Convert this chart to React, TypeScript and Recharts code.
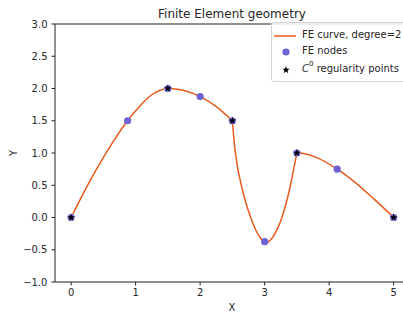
import { ComposedChart, Line, Scatter, XAxis, YAxis, ReferenceLine, Label } from "recharts";

// FE nodes
const nodeX = [0, 0.875, 1.5, 2, 2.5, 3, 3.5, 4.125, 5];
const nodeY = [0, 1.5, 2, 1.875, 1.5, -0.375, 1, 0.75, 0];

// C0 regularity points
const regX = [0, 1.5, 2.5, 3.5, 5];
const regY = [0, 2, 1.5, 1, 0];

// curve, one list per element (kinks at the C0 points)
const elem1X = [0, 0.24, 0.47, 0.68, 0.875, 1.06, 1.22, 1.37, 1.5];
const elem1Y = [0, 0.47, 0.88, 1.22, 1.5, 1.72, 1.88, 1.97, 2];
const elem2X = [1.5, 1.75, 2, 2.25, 2.5];
const elem2Y = [2, 1.97, 1.875, 1.72, 1.5];
const elem3X = [2.5, 2.535, 2.58, 2.625, 2.7, 2.78, 2.86, 2.93, 3.02, 3.1, 3.17, 3.25, 3.32, 3.4, 3.45, 3.5];
const elem3Y = [1.5, 1.1, 0.78, 0.56, 0.26, 0.01, -0.19, -0.31, -0.39, -0.34, -0.23, -0.05, 0.17, 0.5, 0.75, 1];
const elem4X = [3.5, 3.62, 3.78, 4.125, 4.42, 4.68, 5];
const elem4Y = [1, 0.99, 0.94, 0.75, 0.53, 0.3, 0];

const xTicks = [0, 1, 2, 3, 4, 5];
const yTicks = [-1, -0.5, 0, 0.5, 1, 1.5, 2, 2.5, 3];

const CURVE = "#e85a1e";
const NODE = "#6a63d4";
const FONT = "'DejaVu Sans', sans-serif";
const TEXT = "#262626";

const pts = (xs: number[], ys: number[]) => xs.map((x, i) => ({ x, y: ys[i] }));

const fmtY = (v: number) => (v < 0 ? "\u2212" + Math.abs(v).toFixed(1) : v.toFixed(1));

const Star = (props: any) => {
    const { cx, cy } = props;
    const R = 3.9;
    const r = 1.6;
    let d = "";
    for (let i = 0; i < 10; i++) {
        const rad = i % 2 === 0 ? R : r;
        const a = -Math.PI / 2 + (i * Math.PI) / 5;
        d += (i === 0 ? "M" : "L") + (cx + rad * Math.cos(a)).toFixed(2) + "," + (cy + rad * Math.sin(a)).toFixed(2);
    }
    return <path d={d + "Z"} fill="#000" />;
};

const tickStyle = { fontSize: 10, fill: TEXT, fontFamily: FONT };

export default function App() {
    return (
        <div
            style={{
                position: "absolute",
                left: 0,
                top: 0,
                width: 403,
                height: 314,
                overflow: "hidden",
                background: "#fff",
                fontFamily: FONT,
            }}
        >
            <ComposedChart width={403} height={314} margin={{ top: 24, right: 0, bottom: 0, left: 0 }}>
                <XAxis
                    type="number"
                    dataKey="x"
                    domain={[-0.25, 5.145]}
                    ticks={xTicks}
                    allowDataOverflow
                    height={32}
                    tickSize={3.5}
                    tickMargin={3.5}
                    tick={tickStyle}
                    stroke="#222"
                >
                    <Label
                        content={() => (
                            <text x={232} y={307} textAnchor="middle" dominantBaseline="central" fontSize={10} fill={TEXT} fontFamily={FONT}>
                                X
                            </text>
                        )}
                    />
                </XAxis>
                <YAxis
                    type="number"
                    dataKey="y"
                    domain={[-1, 3]}
                    ticks={yTicks}
                    allowDataOverflow
                    width={55}
                    tickSize={3.5}
                    tickMargin={4}
                    tick={tickStyle}
                    tickFormatter={fmtY}
                    stroke="#222"
                >
                    <Label
                        content={() => (
                            <text x={13} y={153} transform="rotate(-90 13 153)" textAnchor="middle" dominantBaseline="central" fontSize={10} fill={TEXT} fontFamily={FONT}>
                                Y
                            </text>
                        )}
                    />
                </YAxis>
                <ReferenceLine y={3} stroke="#222" />
                <Line data={pts(elem1X, elem1Y)} dataKey="y" type="monotone" stroke={CURVE} strokeWidth={1.5} dot={false} isAnimationActive={false} />
                <Line data={pts(elem2X, elem2Y)} dataKey="y" type="monotone" stroke={CURVE} strokeWidth={1.5} dot={false} isAnimationActive={false} />
                <Line data={pts(elem3X, elem3Y)} dataKey="y" type="monotone" stroke={CURVE} strokeWidth={1.5} dot={false} isAnimationActive={false} />
                <Line data={pts(elem4X, elem4Y)} dataKey="y" type="monotone" stroke={CURVE} strokeWidth={1.5} dot={false} isAnimationActive={false} />
                <Scatter
                    data={pts(nodeX, nodeY)}
                    dataKey="y"
                    isAnimationActive={false}
                    shape={(p: any) => <circle cx={p.cx} cy={p.cy} r={3.6} fill={NODE} />}
                />
                <Scatter data={pts(regX, regY)} dataKey="y" isAnimationActive={false} shape={Star} />
            </ComposedChart>

            <div
                style={{
                    position: "absolute",
                    left: 232,
                    top: 14,
                    transform: "translate(-50%, -50%)",
                    fontSize: 12,
                    color: TEXT,
                    whiteSpace: "nowrap",
                }}
            >
                Finite Element geometry
            </div>

            <div
                style={{
                    position: "absolute",
                    left: 271,
                    top: 22,
                    width: 150,
                    height: 60,
                    border: "1px solid #d4d4d4",
                    borderRadius: 3,
                    background: "rgba(255,255,255,0.85)",
                    fontSize: 10,
                    color: TEXT,
                    boxSizing: "border-box",
                }}
            >
                <svg width={30} height={60} style={{ position: "absolute", left: 0, top: 0 }}>
                    <line x1={2} x2={24} y1={13} y2={13} stroke={CURVE} strokeWidth={1.5} />
                    <circle cx={14} cy={29} r={3.6} fill={NODE} />
                    <Star cx={14} cy={47} />
                </svg>
                <div style={{ position: "absolute", left: 30, top: 6, whiteSpace: "nowrap" }}>FE curve, degree=2</div>
                <div style={{ position: "absolute", left: 30, top: 22, whiteSpace: "nowrap" }}>FE nodes</div>
                <div style={{ position: "absolute", left: 30, top: 40, whiteSpace: "nowrap" }}>
                    <i>C</i>
                    <sup style={{ fontSize: 7, verticalAlign: "top", position: "relative", top: -3 }}>0</sup> regularity points
                </div>
            </div>
        </div>
    );
}
